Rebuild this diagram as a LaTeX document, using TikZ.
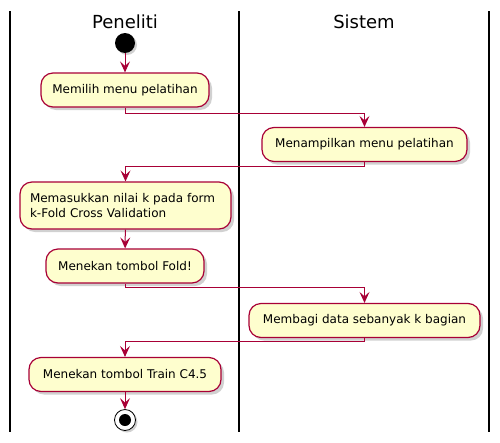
\documentclass[tikz,border=0pt]{standalone}
\usepackage{fontspec}
\setmainfont{DejaVu Sans}
\usetikzlibrary{arrows.meta,shadows}
\definecolor{pbord}{HTML}{A80036}
\definecolor{pfill}{HTML}{FEFECE}
\tikzset{
  act/.style={draw=pbord, fill=pfill, line width=1.2pt, rounded corners=12pt,
    minimum height=34pt, inner xsep=10pt, inner ysep=0pt,
    font=\fontsize{12}{15}\selectfont,
    drop shadow={shadow xshift=3pt, shadow yshift=-3pt, opacity=0.3, fill=black!60}},
  arr/.style={draw=pbord, line width=1pt, -{Stealth[length=11pt,width=10pt,inset=4.5pt]}},
  lane/.style={line width=1.5pt, black},
  head/.style={font=\fontsize{18}{20}\selectfont},
}
\begin{document}
\begin{tikzpicture}[x=1pt,y=-1pt]
\useasboundingbox (0,0) rectangle (500,442);
% swimlane lines
\coordinate (l1t) at (10,11); \coordinate (l1b) at (10,432);
\coordinate (l2t) at (239,11); \coordinate (l2b) at (239,432);
\coordinate (l3t) at (489,11); \coordinate (l3b) at (489,432);
\draw[lane] (l1t) -- (l1b);
\draw[lane] (l2t) -- (l2b);
\draw[lane] (l3t) -- (l3b);
% headers
\node[head] (h1) at (125,22) {Peneliti};
\node[head] (h2) at (364,22) {Sistem};
% start
\node[circle, fill=black, minimum size=20pt, inner sep=0pt,
  drop shadow={shadow xshift=2pt, shadow yshift=-2pt, opacity=0.3, fill=black!60}] (start) at (125,43) {};
% activities
\node[act, minimum width=168pt] (b1) at (125,90) {Memilih menu pelatihan};
\node[act, minimum width=205pt] (b2) at (364.5,144.5) {Menampilkan menu pelatihan};
\node[act, text width=191pt, minimum height=47pt, align=left] (b3) at (125.5,205.5) {Memasukkan nilai k pada form\\k-Fold Cross Validation};
\node[act, minimum width=158pt] (b4) at (125,266) {Menekan tombol Fold!};
\node[act, minimum width=231pt] (b5) at (364.5,320.5) {Membagi data sebanyak k bagian};
\node[act, minimum width=192pt] (b6) at (125,374.5) {Menekan tombol Train C4.5};
% end
\node[circle, draw=black, line width=0.8pt, fill=white, minimum size=21pt, inner sep=0pt,
  drop shadow={shadow xshift=2pt, shadow yshift=-2pt, opacity=0.3, fill=black!60}] (end) at (125,420) {};
\node[circle, fill=black, minimum size=12pt, inner sep=0pt] (endin) at (end.center) {};
% connectors
\draw[arr] (start) -- (b1);
\draw[arr] (b1.south) -- (b1.south |- 0,113) -| (b2.north);
\draw[arr] (b2.south) -- (b2.south |- 0,166) -| (b3.north);
\draw[arr] (b3) -- (b4);
\draw[arr] (b4.south) -- (b4.south |- 0,287) -| (b5.north);
\draw[arr] (b5.south) -- (b5.south |- 0,341) -| (b6.north);
\draw[arr] (b6) -- (end);
\end{tikzpicture}
\end{document}
